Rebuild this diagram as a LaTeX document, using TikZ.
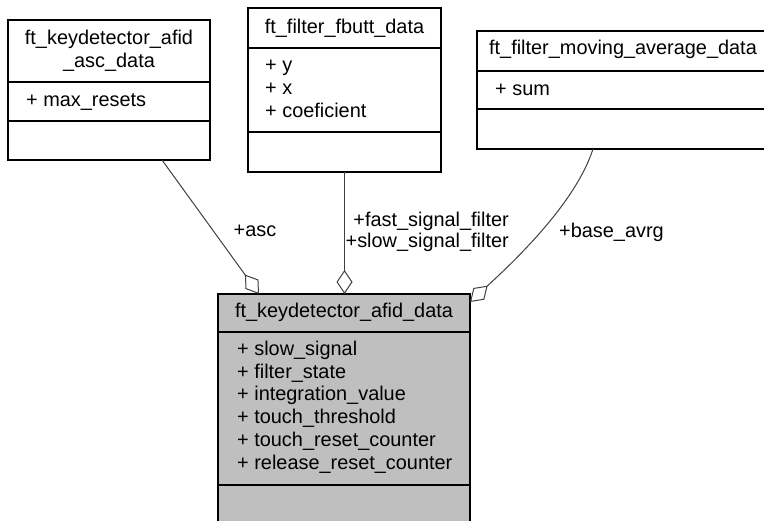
\documentclass[tikz,border=0pt]{standalone}
\usepackage{fontspec}
\setmainfont{Liberation Sans}
\usetikzlibrary{arrows.meta}
\definecolor{linegray}{HTML}{404040}
\definecolor{boxgray}{HTML}{BFBFBF}
\begin{document}
\begin{tikzpicture}[x=1pt,y=-1pt,
  box/.style={draw=black, line width=1.3pt, rectangle, anchor=north west, inner sep=0pt, outer sep=0pt},
  sepline/.style={draw=black, line width=1.3pt},
  txt/.style={inner sep=0pt, font=\fontsize{19.9}{22.7}\selectfont},
  conn/.style={draw=linegray, line width=1pt, -{Diamond[open, length=24pt, width=16pt, line width=1pt]}}]
\useasboundingbox (0,0) rectangle (764,521);
\clip (0,0) rectangle (764,521);

% boxes
\node[box, minimum width=202pt, minimum height=140pt] (asc) at (8,20) {};
\node[box, minimum width=193pt, minimum height=164pt] (fbutt) at (248,8) {};
\node[box, minimum width=292pt, minimum height=118pt] (mavg) at (477,31) {};
\node[box, fill=boxgray, minimum width=252pt, minimum height=240pt] (main) at (218,294) {};

% separators
\draw[sepline] ([yshift=-62pt]asc.north west) -- ([yshift=-62pt]asc.north east);
\draw[sepline] ([yshift=-101pt]asc.north west) -- ([yshift=-101pt]asc.north east);
\draw[sepline] ([yshift=-40pt]fbutt.north west) -- ([yshift=-40pt]fbutt.north east);
\draw[sepline] ([yshift=-124pt]fbutt.north west) -- ([yshift=-124pt]fbutt.north east);
\draw[sepline] ([yshift=-40pt]mavg.north west) -- ([yshift=-40pt]mavg.north east);
\draw[sepline] ([yshift=-78pt]mavg.north west) -- ([yshift=-78pt]mavg.north east);
\draw[sepline] ([yshift=-38pt]main.north west) -- ([yshift=-38pt]main.north east);
\draw[sepline] ([yshift=-191pt]main.north west) -- ([yshift=-191pt]main.north east);

% texts of asc box
\node[txt, anchor=base] (ascT1) at (109,45) {ft\_keydetector\_afid};
\node[txt, anchor=base] (ascT2) at (109,68) {\_asc\_data};
\node[txt, anchor=base west] (ascA1) at (26,107) {+ max\_resets};

% texts of fbutt box
\node[txt, anchor=base] (fbT) at (344.5,34) {ft\_filter\_fbutt\_data};
\node[txt, anchor=base west] (fbA1) at (265,72) {+ y};
\node[txt, anchor=base west] (fbA2) at (265,95) {+ x};
\node[txt, anchor=base west] (fbA3) at (265,118) {+ coeficient};

% texts of mavg box
\node[txt, anchor=base] (maT) at (623,55) {ft\_filter\_moving\_average\_data};
\node[txt, anchor=base west] (maA1) at (495,96) {+ sum};

% texts of main box
\node[txt, anchor=base] (mT) at (344,318) {ft\_keydetector\_afid\_data};
\node[txt, anchor=base west] (mA1) at (237,356) {+ slow\_signal};
\node[txt, anchor=base west] (mA2) at (237,379) {+ filter\_state};
\node[txt, anchor=base west] (mA3) at (237,401) {+ integration\_value};
\node[txt, anchor=base west] (mA4) at (237,424) {+ touch\_threshold};
\node[txt, anchor=base west] (mA5) at (237,447) {+ touch\_reset\_counter};
\node[txt, anchor=base west] (mA6) at (237,470) {+ release\_reset\_counter};

% connectors
\draw[conn] ([xshift=53pt]asc.south) -- ([xshift=-85pt]main.north);
\draw[conn] (fbutt.south) -- (fbutt.south |- main.north);
\draw[conn] ([xshift=-30pt]mavg.south) .. controls (575,205) and (510,265) .. ([yshift=-8pt]main.north east);

% connector labels
\node[txt, anchor=base] (lAsc) at (255,237) {+asc};
\node[txt, anchor=base east] (lFast) at (509,227) {+fast\_signal\_filter};
\node[txt, anchor=base east] (lSlow) at (509,248) {+slow\_signal\_filter};
\node[txt, anchor=base west] (lBase) at (559,238) {+base\_avrg};
\end{tikzpicture}
\end{document}
